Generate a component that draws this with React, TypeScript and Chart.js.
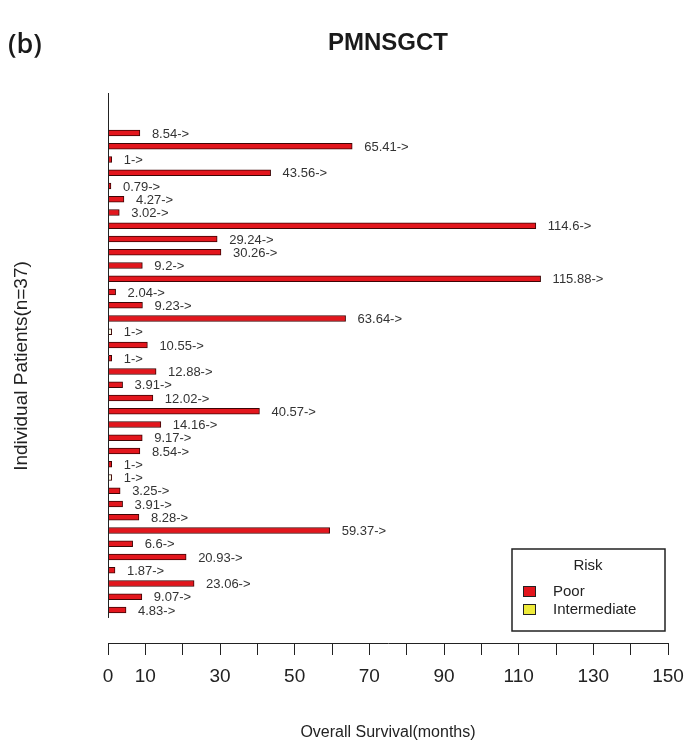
import React, { useEffect, useRef } from "react";
import { Chart, registerables } from "chart.js";

Chart.register(...registerables);

const survivalMonths: number[] = [
  8.54, 65.41, 1, 43.56, 0.79, 4.27, 3.02, 114.6, 29.24, 30.26, 9.2, 115.88, 2.04,
  9.23, 63.64, 1, 10.55, 1, 12.88, 3.91, 12.02, 40.57, 14.16, 9.17, 8.54, 1, 1,
  3.25, 3.91, 8.28, 59.37, 6.6, 20.93, 1.87, 23.06, 9.07, 4.83,
];
const survivalLabels: string[] = [
  "8.54", "65.41", "1", "43.56", "0.79", "4.27", "3.02", "114.6", "29.24", "30.26", "9.2",
  "115.88", "2.04", "9.23", "63.64", "1", "10.55", "1", "12.88", "3.91", "12.02", "40.57",
  "14.16", "9.17", "8.54", "1", "1", "3.25", "3.91", "8.28", "59.37", "6.6", "20.93",
  "1.87", "23.06", "9.07", "4.83",
];
const patientRisk: string[] = survivalMonths.map((_, i) =>
  i === 15 || i === 26 ? "Intermediate" : "Poor"
);
const riskCategories: string[] = ["Poor", "Intermediate"];
const riskColors: string[] = ["#e3161d", "#fbf9e6"];
const riskLegendColors: string[] = ["#e3161d", "#eeea3a"];
const xTickLabels: number[] = [0, 10, 30, 50, 70, 90, 110, 130, 150];

const TITLE = "PMNSGCT";
const PANEL = "(b)";
const X_TITLE = "Overall Survival(months)";
const Y_TITLE = "Individual Patients(n=37)";

export default function App() {
  const canvasRef = useRef<HTMLCanvasElement | null>(null);

  useEffect(() => {
    const canvas = canvasRef.current;
    if (!canvas) return;

    const decorPlugin = {
      id: "decor",
      afterDraw(chart: any) {
        const ctx = chart.ctx as CanvasRenderingContext2D;
        const area = chart.chartArea;
        const yScale = chart.scales.y;
        ctx.save();
        // y axis line
        ctx.strokeStyle = "#222";
        ctx.lineWidth = 1;
        ctx.beginPath();
        ctx.moveTo(area.left + 0.5, area.top);
        ctx.lineTo(area.left + 0.5, yScale.getPixelForValue(36.6));
        ctx.stroke();

        // bar labels
        const meta = chart.getDatasetMeta(0);
        ctx.font = "13px 'Liberation Sans', Arial, sans-serif";
        ctx.fillStyle = "#333";
        ctx.textBaseline = "middle";
        ctx.textAlign = "left";
        meta.data.forEach((el: any, i: number) => {
          ctx.fillText(survivalLabels[i] + "->", el.x + 12, el.y + 1);
        });

        // panel label
        ctx.fillStyle = "#1a1a1a";
        ctx.font = "600 27px 'Open Sans', sans-serif";
        ctx.textAlign = "left";
        ctx.textBaseline = "middle";
        ctx.fillText(PANEL, 8, 45);

        // title
        ctx.font = "bold 24px 'Liberation Sans', Arial, sans-serif";
        ctx.textAlign = "center";
        ctx.fillText(TITLE, 388, 43);

        // axis titles
        ctx.fillStyle = "#222";
        ctx.font = "16px 'Liberation Sans', Arial, sans-serif";
        ctx.fillText(X_TITLE, 388, 733);
        ctx.save();
        ctx.translate(22, 366);
        ctx.rotate(-Math.PI / 2);
        ctx.font = "19px 'Liberation Sans', Arial, sans-serif";
        ctx.fillText(Y_TITLE, 0, 0);
        ctx.restore();

        // legend
        const lx = 512, ly = 549, lw = 153, lh = 82;
        ctx.strokeStyle = "#222";
        ctx.lineWidth = 1.5;
        ctx.strokeRect(lx, ly, lw, lh);
        ctx.font = "15px 'Liberation Sans', Arial, sans-serif";
        ctx.fillStyle = "#222";
        ctx.textAlign = "center";
        ctx.fillText("Risk", 588, 566);
        riskCategories.forEach((name, i) => {
          const cy = 591 + i * 18;
          ctx.fillStyle = riskLegendColors[i];
          ctx.fillRect(523, cy - 5, 12, 10);
          ctx.strokeStyle = "#222";
          ctx.lineWidth = 1;
          ctx.strokeRect(523.5, cy - 4.5, 12, 10);
          ctx.fillStyle = "#222";
          ctx.textAlign = "left";
          ctx.fillText(name, 553, cy + 1);
        });
        ctx.restore();
      },
    };

    const chart = new Chart(canvas, {
      type: "bar",
      data: {
        datasets: [
          {
            data: survivalMonths.map((v, i) => ({ x: v, y: i })),
            backgroundColor: patientRisk.map((r) => riskColors[riskCategories.indexOf(r)]),
            borderColor: "#3d0505",
            borderWidth: 1,
            barThickness: 6,
          } as any,
        ],
      },
      options: {
        indexAxis: "y",
        responsive: false,
        animation: false,
        layout: { padding: { left: 108, right: 17, top: 93, bottom: 0 } },
        plugins: { legend: { display: false }, tooltip: { enabled: false } },
        scales: {
          y: {
            type: "linear",
            reverse: true,
            offset: false,
            min: -3.02,
            max: 38.49,
            display: false,
          },
          x: {
            type: "linear",
            min: 0,
            max: 150,
            afterFit: (scale: any) => {
              scale.height = 106;
              scale.paddingLeft = 0;
              scale.paddingRight = 0;
            },
            border: { display: true, color: "#222", width: 1 },
            grid: {
              display: true,
              drawOnChartArea: false,
              drawTicks: true,
              tickLength: 12,
              color: "#222",
              lineWidth: 1,
            },
            ticks: {
              stepSize: 10,
              autoSkip: false,
              maxRotation: 0,
              padding: 10,
              color: "#222",
              font: { family: "'Liberation Sans', Arial, sans-serif", size: 19 },
              callback: (v: any) => (xTickLabels.includes(Number(v)) ? String(v) : ""),
            },
          },
        },
      },
      plugins: [decorPlugin],
    } as any);

    return () => chart.destroy();
  }, []);

  return (
    <div style={{ position: "fixed", left: 0, top: 0, width: 685, height: 749, background: "#fff" }}>
      <canvas ref={canvasRef} width={685} height={749} />
    </div>
  );
}
